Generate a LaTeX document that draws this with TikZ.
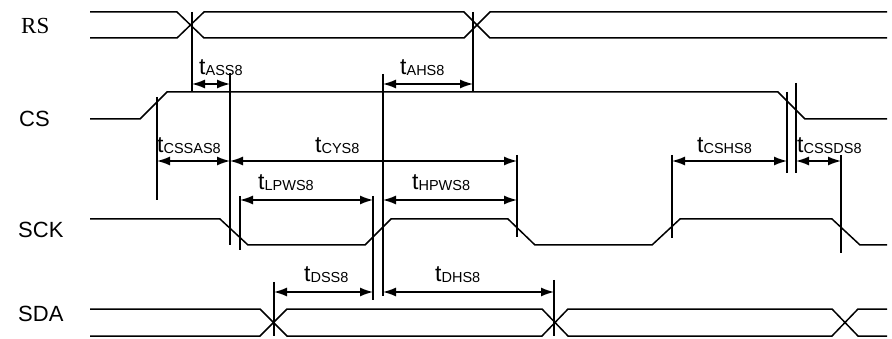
\documentclass[tikz,border=0pt]{standalone}
\usepackage{fontspec}
\setmainfont{Liberation Sans}
\newfontfamily\rsfont{Liberation Serif}
\usetikzlibrary{arrows.meta,positioning}

\newcommand{\tsub}[1]{t\raisebox{-1pt}{\fontsize{14.5}{14.5}\selectfont #1}}

\tikzset{
  signal/.style={line width=1.5pt},
  guide/.style={line width=1.4pt},
  dim/.style={line width=1.4pt,
    {Latex[length=13pt,width=9pt]}-{Latex[length=13pt,width=9pt]}},
  timelab/.style={font=\fontsize{23}{23}\selectfont, inner sep=0pt, anchor=base west},
  signame/.style={font=\fontsize{22}{22}\selectfont, inner sep=0pt, anchor=base west}
}

\begin{document}
\begin{tikzpicture}[x=1pt,y=-1pt]
  \useasboundingbox (0,0) rectangle (892,339);

  % signal names
  \node[signame] (rsName)  at (21,34)  {\rsfont\fontsize{23}{23}\selectfont RS};
  \node[signame] (csName)  at (19,127) {CS};
  \node[signame] (sckName) at (18,238) {SCK};
  \node[signame] (sdaName) at (18,321) {SDA};

  % waveforms
  \draw[signal] (90,12) -- (177,12) -- (204,38) -- (464,38) -- (490,12) -- (887,12);
  \draw[signal] (90,38) -- (177,38) -- (204,12) -- (464,12) -- (490,38) -- (887,38);
  \draw[signal] (90,119) -- (140,119) -- (167,92) -- (778,92) -- (805,119) -- (887,119);
  \draw[signal] (90,219) -- (220,219) -- (248,245) -- (365,245) -- (391,219) -- (508,219)
                -- (535,245) -- (652,245) -- (680,219) -- (832,219) -- (860,245) -- (887,245);
  \draw[signal] (90,309) -- (260,309) -- (287,336) -- (542,336) -- (568,309) -- (832,309)
                -- (858,336) -- (887,336);
  \draw[signal] (90,336) -- (260,336) -- (287,309) -- (542,309) -- (568,336) -- (832,336)
                -- (858,309) -- (887,309);

  % guide lines
  \draw[guide] (192,12) -- (192,92);
  \draw[guide] (473,12) -- (473,92);
  \draw[guide] (230,73) -- (230,245);
  \draw[guide] (157,97) -- (157,200);
  \draw[guide] (383,74) -- (383,296);
  \draw[guide] (240,196) -- (240,250);
  \draw[guide] (373,196) -- (373,300);
  \draw[guide] (517,155) -- (517,237);
  \draw[guide] (672,155) -- (672,238);
  \draw[guide] (787,92) -- (787,173);
  \draw[guide] (796,83) -- (796,173);
  \draw[guide] (841,155) -- (841,253);
  \draw[guide] (274,282) -- (274,336);
  \draw[guide] (554,280) -- (554,336);

  % timing arrows
  \draw[dim] (192,84) -- (230,84);
  \draw[dim] (383,84) -- (473,84);
  \draw[dim] (157,161) -- (230,161);
  \draw[dim] (230,161) -- (517,161);
  \draw[dim] (240,200) -- (373,200);
  \draw[dim] (383,200) -- (517,200);
  \draw[dim] (672,161) -- (787,161);
  \draw[dim] (796,161) -- (841,161);
  \draw[dim] (274,292) -- (373,292);
  \draw[dim] (383,292) -- (554,292);

  % timing labels
  \node[timelab] (tass)   at (199,75)  {\tsub{ASS8}};
  \node[timelab] (tahs)   at (400,75)  {\tsub{AHS8}};
  \node[timelab] (tcssas) at (157,153) {\tsub{CSSAS8}};
  \node[timelab] (tcys)   at (315,153) {\tsub{CYS8}};
  \node[timelab] (tlpws)  at (258,190) {\tsub{LPWS8}};
  \node[timelab] (thpws)  at (412,190) {\tsub{HPWS8}};
  \node[timelab] (tcshs)  at (697,153) {\tsub{CSHS8}};
  \node[timelab] (tcssds) at (797,153) {\tsub{CSSDS8}};
  \node[timelab] (tdss)   at (304,282) {\tsub{DSS8}};
  \node[timelab] (tdhs)   at (435,282) {\tsub{DHS8}};
\end{tikzpicture}
\end{document}
